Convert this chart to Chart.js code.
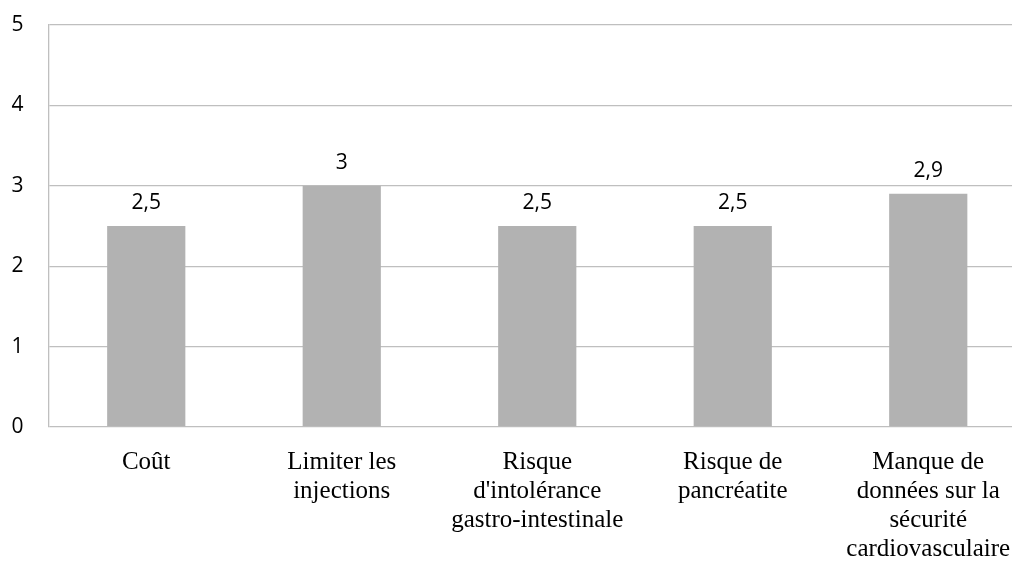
<!DOCTYPE html>
<html>
<head>
<meta charset="utf-8">
<script src="https://cdn.jsdelivr.net/npm/chart.js@4/dist/chart.umd.min.js"></script>
<style>
  html, body { margin: 0; padding: 0; background: #fff; overflow: hidden; }
  #wrap { width: 1040px; height: 562px; }
</style>
</head>
<body>
<div id="wrap"><canvas id="chart" width="1040" height="562"></canvas></div>
<script>
/* ============================
   DATA
============================ */
const categories = [
    ['Coût'],
    ['Limiter les', 'injections'],
    ['Risque', "d'intolérance", 'gastro-intestinale'],
    ['Risque de', 'pancréatite'],
    ['Manque de', 'données sur la', 'sécurité', 'cardiovasculaire']
];
const scores = [2.5, 3, 2.5, 2.5, 2.9];
const yTicks = [0, 1, 2, 3, 4, 5];

/* ============================
   VALUE LABELS PLUGIN
============================ */
const valueLabels = {
    id: 'valueLabels',
    afterDatasetsDraw(chart) {
        const ctx = chart.ctx;
        const meta = chart.getDatasetMeta(0);
        ctx.save();
        ctx.font = '21px "Open Sans", "Noto Sans", sans-serif';
        ctx.fillStyle = '#000';
        ctx.textAlign = 'center';
        ctx.textBaseline = 'alphabetic';
        meta.data.forEach((bar, i) => {
            const txt = String(scores[i]).replace('.', ',');
            ctx.fillText(txt, bar.x, bar.y - 17);
        });
        ctx.restore();
    }
};

/* ============================
   CHART
============================ */
new Chart(document.getElementById('chart'), {
    type: 'bar',
    data: {
        labels: categories,
        datasets: [{
            data: scores,
            backgroundColor: '#b2b2b2',
            borderWidth: 0,
            barPercentage: 0.4,
            categoryPercentage: 1
        }]
    },
    options: {
        responsive: false,
        animation: false,
        layout: { padding: { top: 25, right: 14, left: 0, bottom: 0 } },
        plugins: {
            legend: { display: false },
            tooltip: { enabled: false }
        },
        scales: {
            x: {
                afterFit(scale) { scale.height = 135; },
                grid: { display: false, drawTicks: false },
                border: { display: false },
                ticks: {
                    autoSkip: false,
                    maxRotation: 0,
                    minRotation: 0,
                    padding: 21,
                    color: '#000',
                    font: { family: '"Liberation Serif", "Times New Roman", serif', size: 25, lineHeight: 1.16 }
                }
            },
            y: {
                min: yTicks[0],
                max: yTicks[yTicks.length - 1],
                afterFit(scale) {
                    scale.width = 48.5;
                    scale.paddingTop = 0;
                    scale.paddingBottom = 0;
                },
                afterBuildTicks(scale) { scale.ticks = yTicks.map(v => ({ value: v })); },
                grid: { color: '#bfbfbf', lineWidth: 1.3, drawTicks: false },
                border: { display: true, color: '#bfbfbf', width: 1.3 },
                ticks: {
                    padding: 25,
                    color: '#000',
                    font: { family: '"Open Sans", "Noto Sans", sans-serif', size: 21 }
                }
            }
        }
    },
    plugins: [valueLabels]
});
</script>
</body>
</html>
